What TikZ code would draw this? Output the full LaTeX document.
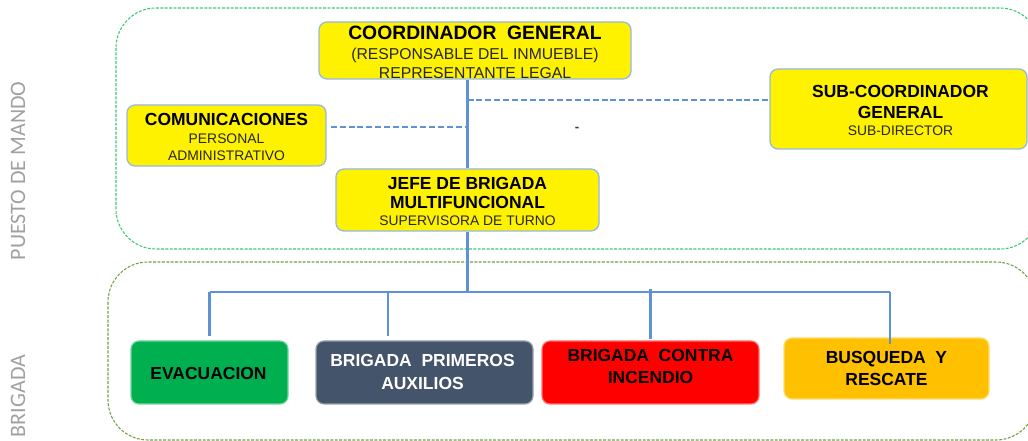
\documentclass[tikz,border=0pt]{standalone}
\usepackage{fontspec}
\setmainfont{Liberation Sans}
\newfontfamily\sidefont{Carlito}
\definecolor{ygreen}{RGB}{60,200,120}
\definecolor{bgreen}{RGB}{112,160,70}
\definecolor{boxblue}{RGB}{150,185,225}
\definecolor{connblue}{RGB}{95,145,215}
\definecolor{evacgreen}{RGB}{0,176,80}
\definecolor{slate}{RGB}{68,84,106}
\definecolor{firered}{RGB}{255,0,0}
\definecolor{amber}{RGB}{255,192,0}
\definecolor{labgray}{RGB}{160,160,160}
\begin{document}
\begin{tikzpicture}[x=0.75pt,y=-0.75pt,
  ybox/.style={draw=boxblue, line width=1pt, fill=yellow, rounded corners=6pt, inner sep=0pt},
  cbox/.style={draw=#1!55!white, line width=0.9pt, fill=#1, rounded corners=6pt, inner sep=0pt},
  conn/.style={draw=connblue, line width=1.9pt},
  dconn/.style={draw=connblue, line width=1.2pt, dash pattern=on 4.5pt off 2.2pt},
  tbig/.style={anchor=base, inner sep=0pt, font=\fontsize{13.1}{15}\selectfont\bfseries},
  tsmall/.style={anchor=base, inner sep=0pt, font=\fontsize{10.4}{12}\selectfont, text=black!85},
  side/.style={anchor=base, inner sep=0pt, rotate=90, text=labgray, font=\sidefont\fontsize{16.5}{18}\selectfont},
  frame/.style={line width=0.8pt, rounded corners=30pt, dash pattern=on 2.2pt off 1.1pt}
]
\useasboundingbox (0,0) rectangle (1028,441);

% containers
\draw[frame, draw=ygreen] (116,8) rectangle (1040,249);
\draw[frame, draw=bgreen] (108,262) rectangle (1036,440);

% side labels
\node[side] (lpm) at (25,171) {PUESTO DE MANDO};
\node[side] (lbr) at (25,396) {BRIGADA};

% upper boxes
\node[ybox, minimum width=234pt, minimum height=42.75pt] (coord) at (475,50.5) {};
\node[ybox, minimum width=149.25pt, minimum height=45.75pt] (com) at (226.5,135.5) {};
\node[ybox, minimum width=197.25pt, minimum height=46.5pt] (jefe) at (467.5,200) {};
\node[ybox, minimum width=192.75pt, minimum height=60pt] (sub) at (898.5,109) {};

% lower boxes
\node[cbox=evacgreen, minimum width=117.75pt, minimum height=47.25pt] (evac) at (209.5,372.5) {};
\node[cbox=slate, minimum width=162.75pt, minimum height=47.25pt] (prim) at (424.5,372.5) {};
\node[cbox=firered, minimum width=162.75pt, minimum height=47.25pt] (contra) at (650.5,372.5) {};
\node[cbox=amber, minimum width=153.75pt, minimum height=45.75pt] (busq) at (886.5,368.5) {};

% texts
\node[tbig, font=\fontsize{14.5}{17}\selectfont\bfseries] (c1) at (475,39.3) {COORDINADOR\ \ GENERAL};
\node[tsmall, font=\fontsize{11.8}{14}\selectfont] (c2) at (475,60) {(RESPONSABLE DEL INMUEBLE)};
\node[tsmall, font=\fontsize{11.8}{14}\selectfont] (c3) at (475,78.5) {REPRESENTANTE LEGAL};

\node[tbig] (m1) at (226.5,125.3) {COMUNICACIONES};
\node[tsmall] (m2) at (226.5,143.3) {PERSONAL};
\node[tsmall] (m3) at (226.5,160.7) {ADMINISTRATIVO};

\node[tbig] (j1) at (467.5,189.3) {JEFE DE BRIGADA};
\node[tbig] (j2) at (467.5,209) {MULTIFUNCIONAL};
\node[tsmall] (j3) at (467.5,226) {SUPERVISORA DE TURNO};

\node[tbig] (s1) at (900.5,97.7) {SUB-COORDINADOR};
\node[tbig] (s2) at (900.5,118.7) {GENERAL};
\node[tsmall] (s3) at (900.5,135.7) {SUB-DIRECTOR};

\node[inner sep=0pt, text=black!75, font=\fontsize{10}{11}\selectfont\bfseries] (dash) at (577,129) {-};

\node[tbig] (e1) at (208.5,379.3) {EVACUACION};
\node[tbig, text=white] (p1) at (422.5,366.7) {BRIGADA\ \ PRIMEROS};
\node[tbig, text=white] (p2) at (422.5,389.3) {AUXILIOS};
\node[tbig] (f1) at (650.5,361.7) {BRIGADA\ \ CONTRA};
\node[tbig] (f2) at (650.5,383.3) {INCENDIO};
\node[tbig] (b1) at (886.5,364) {BUSQUEDA\ \ Y};
\node[tbig] (b2) at (886.5,386) {RESCATE};

% connectors
\coordinate (d1) at (467.5,100);
\coordinate (d2) at (468,127);
\coordinate (bus) at (467.5,292);
\coordinate (pd) at (388,292);
\coordinate (bd) at (890,292);
\coordinate (fd) at (650.5,289);

\draw[dconn] (d1) -- (d1 -| sub.west);
\draw[dconn] ([xshift=3pt]d2 -| com.east) -- (d2);
\draw[conn] (jefe.north |- coord.south) -- (jefe.north);

\draw[conn] (jefe.south) -- (bus);
\draw[conn] (evac.north |- bus) -- (bd);
\draw[conn] (evac.north |- bus) -- ([yshift=3pt]evac.north);
\draw[conn] (pd) -- ([yshift=3pt]pd |- prim.north);
\draw[conn] (fd) -- ([yshift=1pt]contra.north);
\draw[conn] (bd) -- ([yshift=-5pt]bd |- busq.north);
\end{tikzpicture}
\end{document}
